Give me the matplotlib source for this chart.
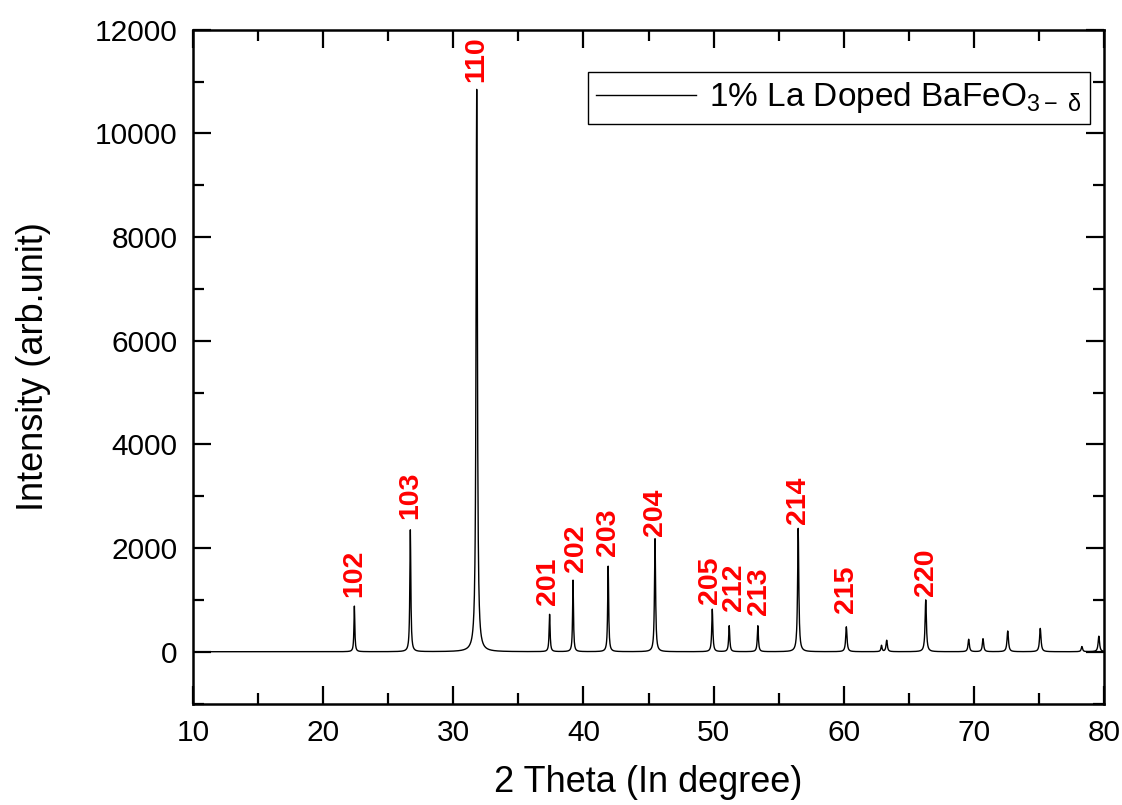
import numpy as np
import matplotlib.pyplot as plt

plt.rcParams['font.family'] = ['Liberation Sans', 'DejaVu Sans']
plt.rcParams['mathtext.fontset'] = 'custom'
plt.rcParams['mathtext.rm'] = 'Liberation Sans'
plt.rcParams['mathtext.it'] = 'Liberation Sans'

# peak positions (2 theta), heights and widths
peak_pos = [22.4, 26.7, 31.8, 37.4, 39.2, 41.9, 45.5, 49.9, 51.2, 53.4,
            56.5, 60.2, 62.9, 63.3, 66.3, 69.6, 70.7, 72.6, 75.1, 78.3, 79.6]
peak_h = [880, 2350, 10850, 720, 1380, 1650, 2180, 820, 500, 500,
          2380, 480, 120, 220, 1000, 240, 250, 400, 450, 100, 300]
peak_w = [0.08, 0.09, 0.12, 0.09, 0.08, 0.09, 0.1, 0.1, 0.1, 0.1,
          0.11, 0.12, 0.1, 0.12, 0.12, 0.12, 0.12, 0.13, 0.13, 0.12, 0.13]
baseline = 0

# hkl labels
hkl = ['102', '103', '110', '201', '202', '203', '204', '205', '212',
       '213', '214', '215', '220']
label_x = [22.4, 26.7, 31.8, 37.3, 39.4, 41.9, 45.5, 49.7, 51.6,
           53.5, 56.5, 60.2, 66.3]
label_y = [1060, 2570, 11000, 910, 1530, 1840, 2240, 930, 790,
           700, 2470, 750, 1080]

two_theta = np.arange(10, 80.01, 0.02)
intensity = np.full_like(two_theta, baseline, dtype=float)
for p, h, w in zip(peak_pos, peak_h, peak_w):
    intensity += h / (1 + ((two_theta - p) / (w / 2)) ** 2)

fig = plt.figure(figsize=(11.22, 8.05), dpi=100)
ax = fig.add_axes([0.172, 0.126, 0.812, 0.837])

ax.plot(two_theta, intensity, color='black', lw=1.0,
        label=r'1% La Doped BaFeO$_{3-\ \delta}$')

for t, x, y in zip(hkl, label_x, label_y):
    ax.text(x, y, t, color='red', fontsize=20.5, fontweight='bold',
            rotation=90, ha='center', va='bottom')

ax.set_xlim(10, 80)
ax.set_ylim(-1000, 12000)
ax.set_xticks(np.arange(10, 81, 10))
ax.set_xticks(np.arange(15, 80, 10), minor=True)
ax.set_yticks(np.arange(0, 12001, 2000))
ax.set_yticks(np.arange(-1000, 12000, 2000), minor=True)
ax.tick_params(which='both', direction='in', top=True, right=True, width=1.6)
ax.tick_params(which='major', length=13, labelsize=21.5, pad=11)
ax.tick_params(which='minor', length=8)
for s in ax.spines.values():
    s.set_linewidth(1.8)

ax.set_xlabel('2 Theta (In degree)', fontsize=26, labelpad=13)
ax.set_ylabel('Intensity (arb.unit)', fontsize=26, labelpad=32)

leg = ax.legend(loc='upper right', fontsize=24, handlelength=3.0,
                fancybox=False, framealpha=1, borderpad=0.25,
                handletextpad=0.4, bbox_to_anchor=(1.003, 0.962))
leg.get_frame().set_edgecolor('black')
leg.get_frame().set_linewidth(1.0)

fig.savefig('out.png', dpi=100)
